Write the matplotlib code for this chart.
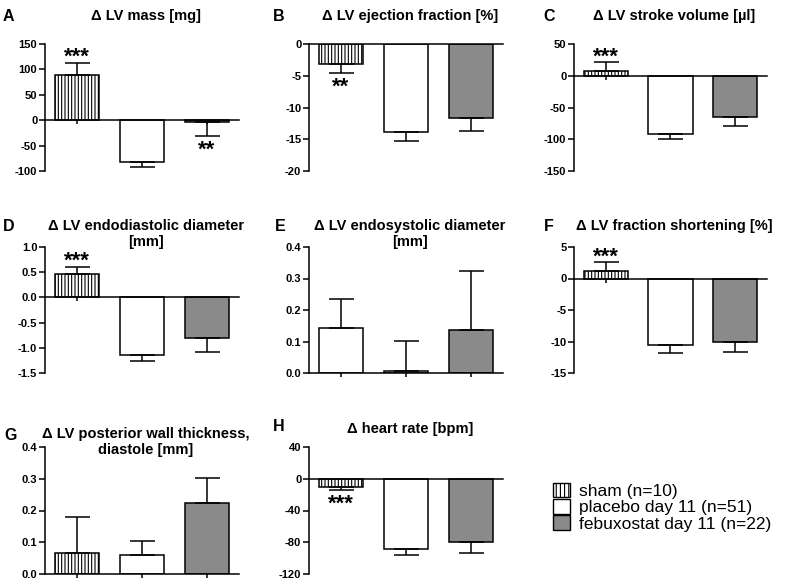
import matplotlib
matplotlib.use('Agg')
import matplotlib.pyplot as plt
from matplotlib.patches import Patch

plt.rcParams['font.family'] = ['Liberation Sans', 'DejaVu Sans']
plt.rcParams['axes.unicode_minus'] = False
plt.rcParams['hatch.linewidth'] = 0.8

# ---------------- data ----------------
groups = ['sham (n=10)', 'placebo day 11 (n=51)', 'febuxostat day 11 (n=22)']

titles = ['Δ LV mass [mg]',
          'Δ LV ejection fraction [%]',
          'Δ LV stroke volume [µl]',
          'Δ LV endodiastolic diameter\n[mm]',
          'Δ LV endosystolic diameter\n[mm]',
          'Δ LV fraction shortening [%]',
          'Δ LV posterior wall thickness,\ndiastole [mm]',
          'Δ heart rate [bpm]']
letters = ['A', 'B', 'C', 'D', 'E', 'F', 'G', 'H']

mass_vals = [89, -82, -4]
mass_err = [24, 11, 27]
mass_stars = ['***', '', '**']

ef_vals = [-3.1, -13.9, -11.7]
ef_err = [1.4, 1.4, 2.0]
ef_stars = ['**', '', '']

sv_vals = [8, -92, -65]
sv_err = [13, 8, 14]
sv_stars = ['***', '', '']

edd_vals = [0.46, -1.14, -0.81]
edd_err = [0.15, 0.12, 0.28]
edd_stars = ['***', '', '']

esd_vals = [0.143, 0.005, 0.137]
esd_err = [0.093, 0.098, 0.186]
esd_stars = ['', '', '']

fs_vals = [1.2, -10.6, -10.0]
fs_err = [1.35, 1.3, 1.7]
fs_stars = ['***', '', '']

pwt_vals = [0.066, 0.060, 0.223]
pwt_err = [0.115, 0.043, 0.080]
pwt_stars = ['', '', '']

hr_vals = [-9.8, -89, -80]
hr_err = [4.2, 7, 13]
hr_stars = ['***', '', '']

yticks_list = [
    [-100, -50, 0, 50, 100, 150],
    [-20, -15, -10, -5, 0],
    [-150, -100, -50, 0, 50],
    [-1.5, -1.0, -0.5, 0.0, 0.5, 1.0],
    [0.0, 0.1, 0.2, 0.3, 0.4],
    [-15, -10, -5, 0, 5],
    [0.0, 0.1, 0.2, 0.3, 0.4],
    [-120, -80, -40, 0, 40],
]
tick_fmt = ['{:.0f}', '{:.0f}', '{:.0f}', '{:.1f}', '{:.1f}', '{:.0f}', '{:.1f}', '{:.0f}']

all_vals = [mass_vals, ef_vals, sv_vals, edd_vals, esd_vals, fs_vals, pwt_vals, hr_vals]
all_err = [mass_err, ef_err, sv_err, edd_err, esd_err, fs_err, pwt_err, hr_err]
all_stars = [mass_stars, ef_stars, sv_stars, edd_stars, esd_stars, fs_stars, pwt_stars, hr_stars]

# ---------------- style / layout ----------------
W, H = 787, 580
fig = plt.figure(figsize=(W / 100, H / 100), dpi=100)

colors = ['white', 'white', '#8a8a8a']
hatches = ['|||||', '', '']
col_x = [(45, 239), (309, 503), (574, 767)]
row_y = [(44, 171), (247, 373), (447, 574)]
letter_pos = [(3, 9), (273, 9), (543, 9), (3, 219), (275, 219), (544, 219), (4, 428), (273, 419)]
title_top = [9, 9, 9, 219, 219, 219, 427, 422]

for i in range(8):
    r, c = divmod(i, 3)
    x0, x1 = col_x[c]
    y0, y1 = row_y[r]
    ax = fig.add_axes([x0 / W, 1 - y1 / H, (x1 - x0) / W, (y1 - y0) / H])
    vals = all_vals[i]
    errs = all_err[i]
    xs = list(range(len(vals)))
    bars = ax.bar(xs, vals, width=0.68, color=colors, edgecolor='black',
                  linewidth=1.1, zorder=2)
    for j, (p, h) in enumerate(zip(bars, hatches)):
        if i == 4 and j == 0:
            continue  # panel E shows the sham bar without hatch
        p.set_hatch(h)
    lower = [e if v < 0 else 0 for v, e in zip(vals, errs)]
    upper = [e if v >= 0 else 0 for v, e in zip(vals, errs)]
    ax.errorbar(xs, vals, yerr=[lower, upper], fmt='none', ecolor='black',
                elinewidth=1.1, capsize=9, capthick=1.1, zorder=3)
    for j, s in enumerate(all_stars[i]):
        if not s:
            continue
        if vals[j] >= 0:
            ax.annotate(s, (xs[j], vals[j] + errs[j]), xytext=(0, -3.5),
                        textcoords='offset points', ha='center', va='bottom',
                        fontsize=16, fontweight='bold')
        else:
            ax.annotate(s, (xs[j], vals[j] - errs[j]), xytext=(0, -3),
                        textcoords='offset points', ha='center', va='top',
                        fontsize=16, fontweight='bold')
    yt = yticks_list[i]
    ax.set_ylim(yt[0], yt[-1])
    ax.set_yticks(yt)
    ax.set_yticklabels([tick_fmt[i].format(t) for t in yt], fontweight='bold')
    ax.set_xlim(-0.49, 2.49)
    ax.set_xticks(xs)
    ax.set_xticklabels([])
    for sp in ['top', 'right']:
        ax.spines[sp].set_visible(False)
    ax.spines['bottom'].set_position(('data', 0))
    for sp in ['left', 'bottom']:
        ax.spines[sp].set_linewidth(1.1)
    ax.tick_params(axis='x', length=3, width=1.1, direction='out')
    ax.tick_params(axis='y', length=4, width=1.1, labelsize=8, pad=1.5)
    ax.patch.set_alpha(0)

    cx = (x0 + x1) / 2 + 4
    fig.text(cx / W, 1 - title_top[i] / H, titles[i], ha='center', va='top',
             fontsize=10.5, fontweight='bold', linespacing=1.15)
    lx, ly = letter_pos[i]
    fig.text(lx / W, 1 - ly / H, letters[i], ha='left', va='top',
             fontsize=11.5, fontweight='bold')

handles = [Patch(facecolor=colors[k], edgecolor='black', hatch='||||' if hatches[k] else '',
                 linewidth=1.0) for k in range(3)]
fig.legend(handles, groups, loc='upper left', bbox_to_anchor=(553 / W, 1 - 483 / H),
           frameon=False, fontsize=12.5, handlelength=1.0, handleheight=0.9,
           labelspacing=0.0, handletextpad=0.5, borderpad=0, borderaxespad=0)

fig.savefig('out.png', dpi=100)
